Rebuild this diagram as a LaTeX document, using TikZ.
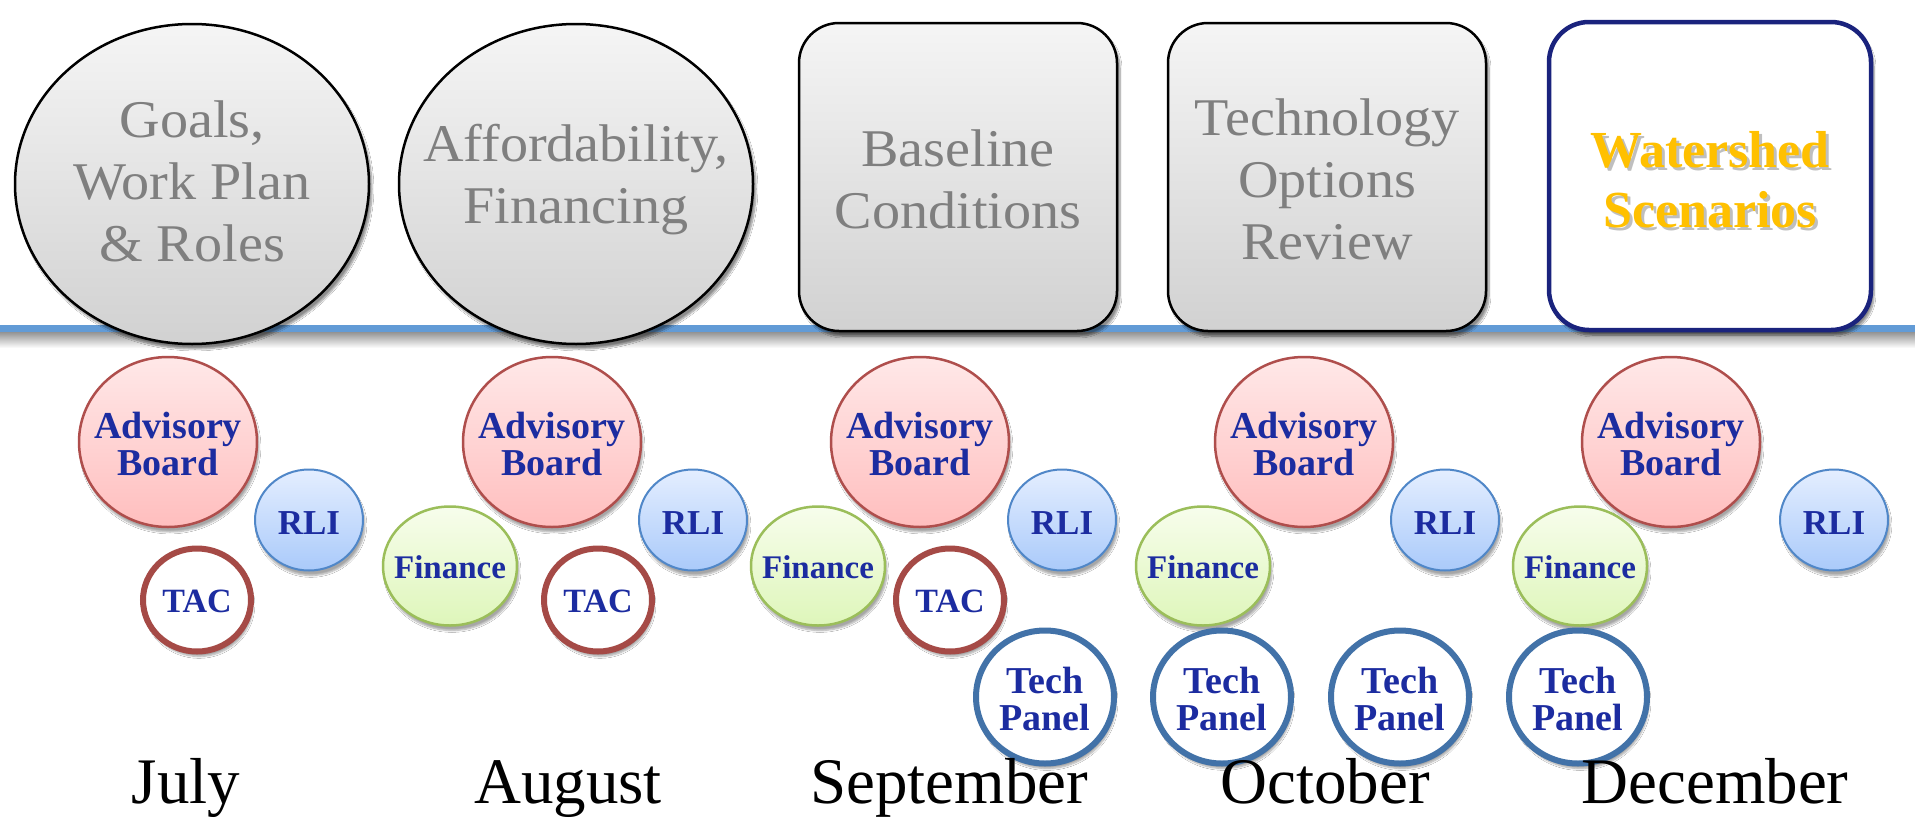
\documentclass[tikz,border=0pt]{standalone}
\usepackage{fontspec}
\setmainfont{Liberation Serif}
\newfontfamily\widefont[FakeStretch=1.06]{Liberation Serif}
\usetikzlibrary{shapes.geometric,shadows.blur}
\definecolor{topgray}{RGB}{127,127,127}
\definecolor{circblue}{RGB}{28,44,160}
\definecolor{lineblue}{RGB}{98,155,214}
\definecolor{navyb}{RGB}{26,35,125}
\definecolor{goldtxt}{RGB}{255,192,0}
\definecolor{advtop}{RGB}{255,232,232}
\definecolor{advbot}{RGB}{255,190,190}
\definecolor{advline}{RGB}{175,78,76}
\definecolor{rlitop}{RGB}{228,238,255}
\definecolor{rlibot}{RGB}{170,202,250}
\definecolor{rliline}{RGB}{80,135,200}
\definecolor{fintop}{RGB}{247,253,236}
\definecolor{finbot}{RGB}{222,246,186}
\definecolor{finline}{RGB}{155,190,90}
\definecolor{tacline}{RGB}{165,74,70}
\definecolor{techline}{RGB}{66,114,168}
\tikzset{
  topshape/.style={draw=black, line width=2.5pt, top color=black!4, bottom color=black!18,
    blur shadow={shadow xshift=3pt, shadow yshift=-5pt, shadow blur steps=8, shadow opacity=45},
    inner sep=0pt},
  topoval/.style={topshape, ellipse, minimum width=354pt, minimum height=320pt},
  topbox/.style={topshape, rectangle, rounded corners=40pt, minimum width=318pt, minimum height=308pt},
  toptext/.style={align=center, text=topgray, inner sep=0pt, font=\widefont\fontsize{53}{62}\selectfont},
  circ/.style={ellipse, inner sep=0pt,
    blur shadow={shadow xshift=2pt, shadow yshift=-5pt, shadow blur steps=6, shadow opacity=35}},
  adv/.style={circ, minimum width=178pt, minimum height=170pt, top color=advtop, bottom color=advbot, draw=advline, line width=2.5pt},
  rli/.style={circ, minimum width=108pt, minimum height=101pt, top color=rlitop, bottom color=rlibot, draw=rliline, line width=2pt},
  fin/.style={circ, minimum width=134pt, minimum height=119pt, top color=fintop, bottom color=finbot, draw=finline, line width=2.5pt},
  tac/.style={circ, minimum width=108pt, minimum height=103pt, fill=white, draw=tacline, line width=6pt},
  tech/.style={circ, minimum width=138pt, minimum height=133pt, fill=white, draw=techline, line width=6pt},
  ctextbase/.style={align=center, text=circblue, inner sep=0pt},
  ctext/.style={ctextbase, yshift=-2pt, font=\bfseries\fontsize{38}{37}\selectfont},
  rlitext/.style={ctextbase, yshift=-3.5pt, font=\bfseries\fontsize{35}{37}\selectfont},
  tactext/.style={ctextbase, yshift=-1pt, font=\bfseries\fontsize{34}{36}\selectfont},
  fintext/.style={ctextbase, yshift=-1pt, font=\bfseries\fontsize{33}{35}\selectfont},
  month/.style={anchor=base, inner sep=0pt, font=\fontsize{65}{70}\selectfont}
}
\begin{document}
\begin{tikzpicture}[x=1pt, y=-1pt]
\useasboundingbox[fill=white] (0,0) rectangle (1915,817);
% timeline
\coordinate (lineL) at (0,328);
\coordinate (lineR) at (1915,328);
\shade[top color=black!45, bottom color=white] (0,331) rectangle (1915,348);
\draw[lineblue, line width=7pt] (lineL) -- (lineR);
% top phases
\node[topoval] (goals) at (192,184) {};
\node[toptext] (goalsT) at (192,181) {Goals,\\Work Plan\\\& Roles};
\node[topoval] (afford) at (576,184) {};
\node[toptext] (affordT) at (576,180) {Affordability,\\Financing};
\node[topbox] (base) at (958,177) {};
\node[toptext] (baseT) at (958,179) {Baseline\\Conditions};
\node[topbox] (techopt) at (1327,177) {};
\node[toptext] (techoptT) at (1327,179) {Technology\\Options\\Review};
\node[topbox, top color=white, bottom color=white, draw=navyb, line width=4.5pt, minimum width=322pt, minimum height=308pt] (water) at (1710,176) {};
\node[toptext, text=black, opacity=0.25, font=\bfseries\fontsize{52}{60}\selectfont] (waterS) at (1713,183) {Watershed\\Scenarios};
\node[toptext, text=goldtxt, font=\bfseries\fontsize{52}{60}\selectfont] (waterT) at (1710,180) {Watershed\\Scenarios};
% July
\node[adv] (adv1) at (168,442) {};
\node[ctext] (adv1T) at (adv1) {Advisory\\Board};
\node[rli] (rli1) at (309,520) {};
\node[rlitext] (rli1T) at (rli1) {RLI};
\node[tac] (tac1) at (197,600) {};
\node[tactext] (tac1T) at (tac1) {TAC};
% August
\node[adv] (adv2) at (552,442) {};
\node[ctext] (adv2T) at (adv2) {Advisory\\Board};
\node[fin] (fin2) at (450,566) {};
\node[fintext] (fin2T) at (fin2) {Finance};
\node[rli] (rli2) at (693,520) {};
\node[rlitext] (rli2T) at (rli2) {RLI};
\node[tac] (tac2) at (598,600) {};
\node[tactext] (tac2T) at (tac2) {TAC};
% September
\node[adv] (adv3) at (920,442) {};
\node[ctext] (adv3T) at (adv3) {Advisory\\Board};
\node[fin] (fin3) at (818,566) {};
\node[fintext] (fin3T) at (fin3) {Finance};
\node[rli] (rli3) at (1062,520) {};
\node[rlitext] (rli3T) at (rli3) {RLI};
\node[tac] (tac3) at (950,600) {};
\node[tactext] (tac3T) at (tac3) {TAC};
\node[tech] (tech3) at (1045,697) {};
\node[ctext] (tech3T) at (tech3) {Tech\\Panel};
% October
\node[adv] (adv4) at (1304,442) {};
\node[ctext] (adv4T) at (adv4) {Advisory\\Board};
\node[fin] (fin4) at (1203,566) {};
\node[fintext] (fin4T) at (fin4) {Finance};
\node[rli] (rli4) at (1445,520) {};
\node[rlitext] (rli4T) at (rli4) {RLI};
\node[tech] (tech4) at (1222,697) {};
\node[ctext] (tech4T) at (tech4) {Tech\\Panel};
\node[tech] (tech5) at (1400,697) {};
\node[ctext] (tech5T) at (tech5) {Tech\\Panel};
% December
\node[adv] (adv6) at (1671,442) {};
\node[ctext] (adv6T) at (adv6) {Advisory\\Board};
\node[fin] (fin6) at (1580,566) {};
\node[fintext] (fin6T) at (fin6) {Finance};
\node[rli] (rli6) at (1834,520) {};
\node[rlitext] (rli6T) at (rli6) {RLI};
\node[tech] (tech6) at (1578,697) {};
\node[ctext] (tech6T) at (tech6) {Tech\\Panel};
% months
\node[month] (mJul) at (186,803) {July};
\node[month] (mAug) at (568,803) {August};
\node[month] (mSep) at (949,803) {September};
\node[month] (mOct) at (1325,803) {October};
\node[month] (mDec) at (1715,803) {December};
\end{tikzpicture}
\end{document}
